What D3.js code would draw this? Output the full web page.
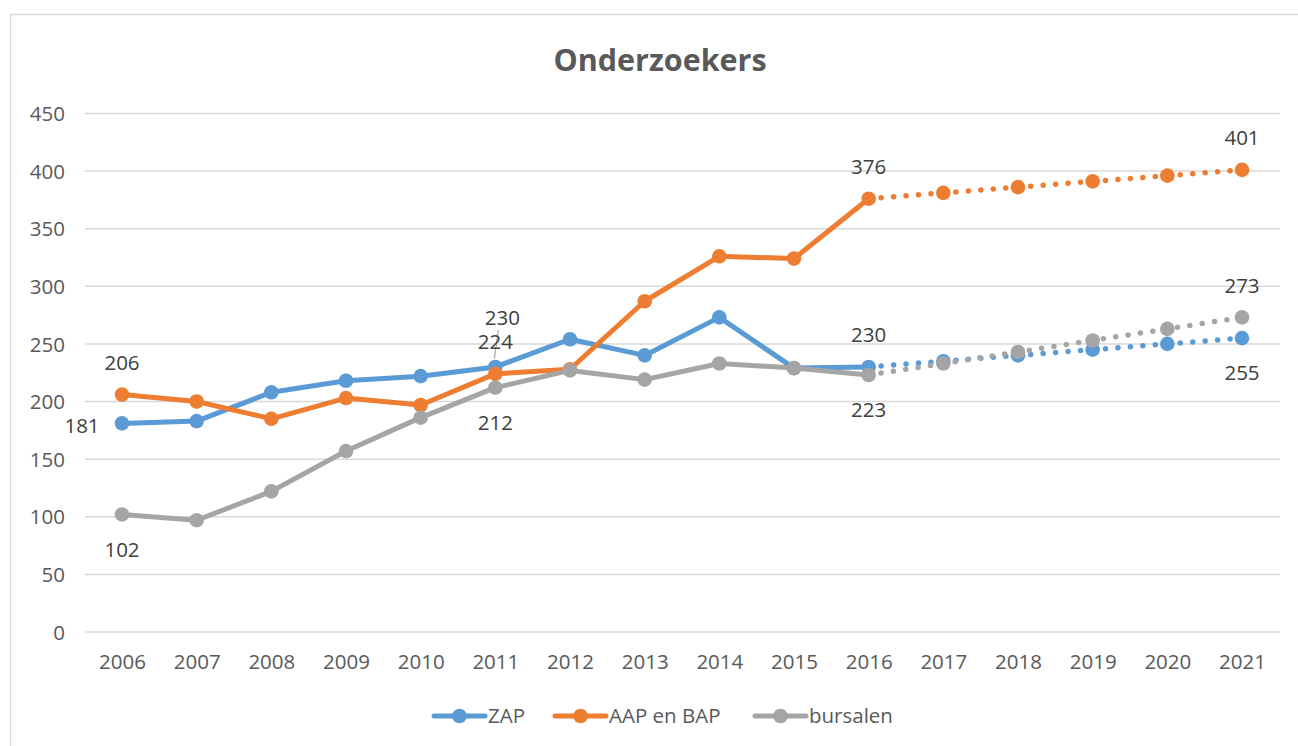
<!DOCTYPE html>
<html>
<head>
<meta charset="utf-8">
<script src="https://cdn.jsdelivr.net/npm/d3@7"></script>
<style>
  body { margin: 0; background: #fff; }
  text { font-family: "Open Sans", "Noto Sans", sans-serif; }
</style>
</head>
<body>
<div id="chart"></div>
<script>
// jaren en reeksen
const years = ["2006","2007","2008","2009","2010","2011","2012","2013","2014","2015","2016","2017","2018","2019","2020","2021"]
const zap = [181,183,208,218,222,230,254,240,273,229,230,235,240,245,250,255]
const aapBap = [206,200,185,203,197,224,228,287,326,324,376,381,386,391,396,401]
const bursalen = [102,97,122,157,186,212,227,219,233,229,223,233,243,253,263,273]
const seriesNames = ["ZAP","AAP en BAP","bursalen"]
const yTicks = [0,50,100,150,200,250,300,350,400,450]
// laatste jaar met echte cijfers, daarna prognose (gestippeld)
const lastActual = "2016"
// welke punten een label krijgen, en waar
const labelSpots = [
  { s: 0, year: "2006", pos: "left" },
  { s: 0, year: "2011", pos: "leader" },
  { s: 0, year: "2016", pos: "above" },
  { s: 0, year: "2021", pos: "below" },
  { s: 1, year: "2006", pos: "above" },
  { s: 1, year: "2011", pos: "above" },
  { s: 1, year: "2016", pos: "above" },
  { s: 1, year: "2021", pos: "above" },
  { s: 2, year: "2006", pos: "below" },
  { s: 2, year: "2011", pos: "below" },
  { s: 2, year: "2016", pos: "below" },
  { s: 2, year: "2021", pos: "above" },
]

const W = 1298, H = 746
const colors = ["#5B9BD5", "#ED7D31", "#A5A5A5"]
const allValues = [zap, aapBap, bursalen]
const fontSize = "20.5px"

const svg = d3.select("#chart").append("svg").attr("width", W).attr("height", H)

// kader van de grafiek
svg.append("rect")
  .attr("x", 10.5).attr("y", 14.5)
  .attr("width", W + 20).attr("height", H + 20)
  .attr("fill", "#fff").attr("stroke", "#d9d9d9").attr("stroke-width", 1.5)

const x = d3.scalePoint().domain(years).range([122, 1242])
const y = d3.scaleLinear().domain([0, 450]).range([632, 113.4])

// rasterlijnen
svg.append("g")
  .selectAll("line")
  .data(yTicks)
  .enter()
  .append("line")
  .attr("x1", 85).attr("x2", 1280)
  .attr("y1", d => y(d)).attr("y2", d => y(d))
  .attr("stroke", "#d9d9d9").attr("stroke-width", 1.5)

// y-as
const yAxis = svg.append("g")
  .attr("transform", "translate(65,0)")
  .call(d3.axisLeft(y).tickValues(yTicks).tickSize(0).tickPadding(0))
yAxis.select(".domain").remove()
yAxis.selectAll("text")
  .attr("fill", "#595959").style("font-size", fontSize)
  .attr("dy", "0.35em")

// x-as
const xAxis = svg.append("g")
  .attr("transform", "translate(0,651)")
  .call(d3.axisBottom(x).tickSize(0).tickPadding(0))
xAxis.select(".domain").remove()
xAxis.selectAll("text")
  .attr("fill", "#595959").style("font-size", fontSize)
  .attr("dy", "0.9em")

// titel
svg.append("text")
  .attr("x", 660).attr("y", 71)
  .attr("text-anchor", "middle")
  .attr("fill", "#595959")
  .style("font-size", "30.5px").style("font-weight", "bold")
  .text("Onderzoekers")

const line = d3.line().x(d => x(d.year)).y(d => y(d.v))
const cut = years.indexOf(lastActual)

allValues.forEach((vals, s) => {
  const pts = years.map((yr, i) => ({ year: yr, v: vals[i] }))
  const g = svg.append("g")
  // echte cijfers
  g.append("path")
    .attr("d", line(pts.slice(0, cut + 1)))
    .attr("fill", "none").attr("stroke", colors[s])
    .attr("stroke-width", 5).attr("stroke-linejoin", "round").attr("stroke-linecap", "round")
  // prognose: ronde stippen
  g.append("path")
    .attr("d", line(pts.slice(cut)))
    .attr("fill", "none").attr("stroke", colors[s])
    .attr("stroke-width", 5.5).attr("stroke-linecap", "round")
    .attr("stroke-dasharray", "0 12.5")
  g.selectAll("circle")
    .data(pts)
    .enter()
    .append("circle")
    .attr("cx", d => x(d.year)).attr("cy", d => y(d.v))
    .attr("r", 7.3).attr("fill", colors[s])
})

// datalabels
const labels = svg.append("g")
labelSpots.forEach(l => {
  const v = allValues[l.s][years.indexOf(l.year)]
  const px = x(l.year), py = y(v)
  let tx = px, ty = py
  if (l.pos === "above") ty = py - 32
  if (l.pos === "below") ty = py + 35
  if (l.pos === "left") { tx = px - 40; ty = py + 2 }
  if (l.pos === "leader") {
    tx = px + 7; ty = py - 49
    labels.append("line")
      .attr("x1", tx - 4).attr("y1", ty + 12)
      .attr("x2", px - 1).attr("y2", py - 8)
      .attr("stroke", "#a6a6a6").attr("stroke-width", 1.2)
  }
  labels.append("text")
    .attr("x", tx).attr("y", ty).attr("dy", "0.35em")
    .attr("text-anchor", "middle")
    .attr("fill", "#404040").style("font-size", fontSize)
    .text(v)
})

// legenda
const legendX = [432, 553, 753]
const legend = svg.append("g").attr("transform", "translate(0,716)")
seriesNames.forEach((name, i) => {
  const lg = legend.append("g").attr("transform", `translate(${legendX[i]},0)`)
  lg.append("line").attr("x1", 2).attr("x2", 53)
    .attr("stroke", colors[i]).attr("stroke-width", 5).attr("stroke-linecap", "round")
  lg.append("circle").attr("cx", 27.5).attr("r", 7.3).attr("fill", colors[i])
  lg.append("text").attr("x", 56).attr("dy", "0.35em")
    .attr("fill", "#595959").style("font-size", fontSize)
    .text(name)
})
</script>
</body>
</html>
